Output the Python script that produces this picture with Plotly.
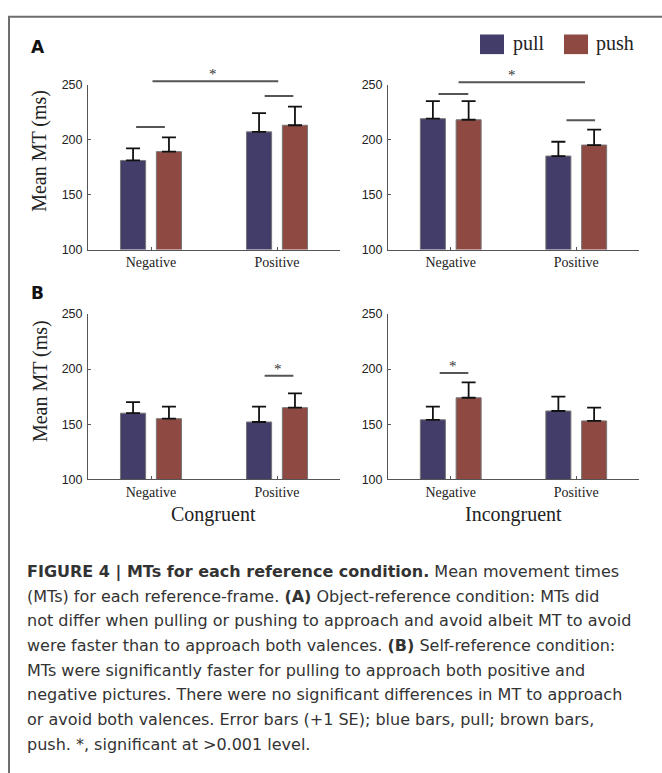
import plotly.graph_objects as go

W, H = 662, 773

# ---------------- data ----------------
categories = ["Negative", "Positive"]
series_names = ["pull", "push"]

# panel order: A-Congruent, A-Incongruent, B-Congruent, B-Incongruent
pull_mean = [[181, 207], [219, 185], [160, 152], [154, 162]]
pull_se = [[11, 17], [16, 13], [10, 14], [12, 13]]
push_mean = [[189, 213], [218, 195], [155, 165], [174, 153]]
push_se = [[13, 17], [17, 14], [11, 13], [14, 12]]

y_ticks = [100, 150, 200, 250]
y_range = [100, 250]

# significance lines (panel index, x0, x1, y level, star, star x) in category-index units
sig_panel = [0, 0, 0, 1, 1, 1, 2, 3]
sig_x0 = [-0.13, 0.89, 0.0, -0.11, 0.91, 0.05, 0.89, -0.10]
sig_x1 = [0.11, 1.13, 1.01, 0.14, 1.15, 1.07, 1.13, 0.14]
sig_y = [211.5, 239.5, 253.0, 241.5, 217.5, 252.0, 194.0, 196.5]
sig_star = [False, False, True, False, False, True, True, True]
sig_star_x = [0, 0, 0.49, 0, 0, 0.49, 1.01, 0.02]

panel_letters = ["A", "B"]
group_titles = ["Congruent", "Incongruent"]
y_title = "Mean MT (ms)"

caption_lines = [
    "<b>FIGURE 4 | MTs for each reference condition.</b> Mean movement times",
    "(MTs) for each reference-frame. <b>(A)</b> Object-reference condition: MTs did",
    "not differ when pulling or pushing to approach and avoid albeit MT to avoid",
    "were faster than to approach both valences. <b>(B)</b> Self-reference condition:",
    "MTs were significantly faster for pulling to approach both positive and",
    "negative pictures. There were no significant differences in MT to approach",
    "or avoid both valences. Error bars (+1 SE); blue bars, pull; brown bars,",
    "push. *, significant at >0.001 level.",
]

# ---------------- style ----------------
PULL = "#433d69"
PUSH = "#8e4943"
AX = "#555555"
SERIF = "Liberation Serif"
SANS = "Liberation Sans"


def px(p):
    return p / W


def py(p):
    return 1 - p / H


def to_dom(v):
    # value on the y scale -> fraction of the y-axis domain
    return (v - y_range[0]) / (y_range[1] - y_range[0])


x_doms = [[88, 340], [388, 639], [88, 340], [388, 639]]
y_doms = [[79, 247], [79, 247], [312.7, 481], [312.7, 481]]

fig = go.Figure()

for i in range(4):
    xa = "x" if i == 0 else f"x{i+1}"
    ya = "y" if i == 0 else f"y{i+1}"
    for name, means, ses, col in [("pull", pull_mean[i], pull_se[i], PULL),
                                  ("push", push_mean[i], push_se[i], PUSH)]:
        fig.add_trace(go.Bar(
            x=categories, y=means, name=name, xaxis=xa, yaxis=ya,
            marker=dict(color=col, line=dict(color="#777777", width=1)),
            error_y=dict(type="data", array=ses, arrayminus=[0] * len(ses),
                         symmetric=False, color="#111111", thickness=1.8, width=7),
            showlegend=False,
        ))
    key = "" if i == 0 else str(i + 1)
    fig.layout["xaxis" + key] = dict(
        domain=[px(x_doms[i][0]), px(x_doms[i][1])],
        anchor=ya, type="category", categoryarray=categories,
        range=[-0.5, 1.5], showline=True, linecolor=AX, linewidth=1,
        ticks="inside", ticklen=3, tickcolor=AX, showgrid=False, zeroline=False,
        tickfont=dict(family=SERIF, size=14, color="#222222"),
    )
    fig.layout["yaxis" + key] = dict(
        domain=[py(y_doms[i][1]), py(y_doms[i][0])],
        anchor=xa, range=y_range, tickvals=y_ticks, showline=True,
        linecolor=AX, linewidth=1, ticks="inside", ticklen=3, tickcolor=AX,
        showgrid=False, zeroline=False, ticklabelstandoff=2,
        tickfont=dict(family=SANS, size=12.5, color="#222222"),
    )

annotations = []
# significance lines + stars
for k in range(len(sig_panel)):
    i = sig_panel[k]
    xa = "x" if i == 0 else f"x{i+1}"
    yd = ("y" if i == 0 else f"y{i+1}") + " domain"
    annotations.append(dict(
        x=sig_x1[k], y=to_dom(sig_y[k]), ax=sig_x0[k], ay=to_dom(sig_y[k]),
        xref=xa, yref=yd, axref=xa, ayref=yd, text="",
        showarrow=True, arrowhead=0, arrowwidth=2, arrowcolor="#555555",
        standoff=0, startstandoff=0,
    ))
    if sig_star[k]:
        annotations.append(dict(
            x=sig_star_x[k], y=to_dom(sig_y[k]), xref=xa, yref=yd, text="*",
            showarrow=False, yanchor="bottom", yshift=-3,
            font=dict(family=SERIF, size=15, color="#333333"),
        ))

# y titles
for yc in [146.5, 381]:
    annotations.append(dict(
        x=px(40), y=py(yc), xref="paper", yref="paper", text=y_title,
        textangle=-90, showarrow=False, xanchor="center", yanchor="middle",
        font=dict(family=SERIF, size=20, color="#222222"),
    ))

# group titles
for j, xc in enumerate([214, 513.5]):
    annotations.append(dict(
        x=px(xc), y=py(517), xref="paper", yref="paper", text=group_titles[j],
        showarrow=False, xanchor="center", yanchor="middle",
        font=dict(family=SERIF, size=20, color="#222222"),
    ))

# panel letters
for j, yc in enumerate([41, 291]):
    annotations.append(dict(
        x=px(29), y=py(yc), xref="paper", yref="paper", text=f"<b>{panel_letters[j]}</b>",
        showarrow=False, xanchor="left", yanchor="middle",
        font=dict(family="DejaVu Sans", size=17, color="#111111"),
    ))

# legend texts
for j, xl in enumerate([511, 594]):
    annotations.append(dict(
        x=px(xl), y=py(37), xref="paper", yref="paper", text=series_names[j],
        showarrow=False, xanchor="left", yanchor="middle",
        font=dict(family=SERIF, size=20, color="#222222"),
    ))

# caption
for j, line in enumerate(caption_lines):
    annotations.append(dict(
        x=px(25), y=py(575 + 25.1 * j), xref="paper", yref="paper", text=line,
        showarrow=False, xanchor="left", yanchor="middle",
        font=dict(family="DejaVu Sans", size=16, color="#333333"),
    ))

shapes = [
    # outer frame
    dict(type="rect", xref="paper", yref="paper", x0=px(9), x1=1.05, y0=py(10), y1=-0.05,
         line=dict(color="#6e6e6e", width=2), fillcolor="rgba(0,0,0,0)", layer="above"),
    # legend swatches
    dict(type="rect", xref="paper", yref="paper", x0=px(480), x1=px(504), y0=py(28), y1=py(48),
         line=dict(width=0), fillcolor=PULL),
    dict(type="rect", xref="paper", yref="paper", x0=px(564), x1=px(588), y0=py(28), y1=py(48),
         line=dict(width=0), fillcolor=PUSH),
]

fig.update_layout(
    width=W, height=H, margin=dict(l=0, r=0, t=0, b=0),
    paper_bgcolor="white", plot_bgcolor="white",
    barmode="group", bargap=0.43, bargroupgap=0.3,
    annotations=annotations, shapes=shapes,
)

fig.write_html(
    "out.html",
    config={"displayModeBar": False},
    post_script="document.body.style.margin='0';document.body.style.overflow='hidden';",
)
